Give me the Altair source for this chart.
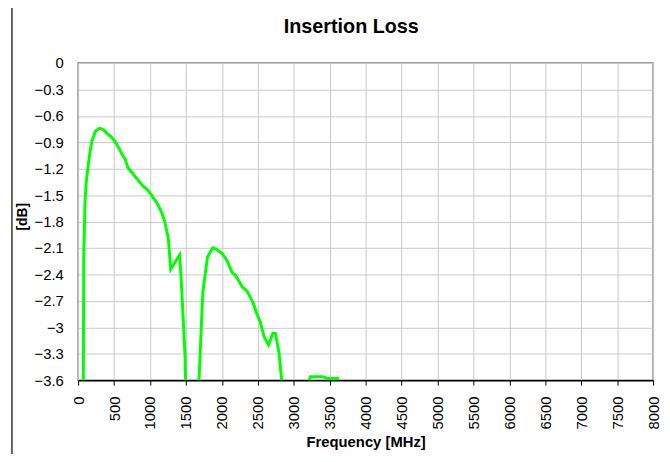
import altair as alt
import pandas as pd

# Insertion loss trace (values below -3.6 dB are off-scale and clipped)
freq_mhz = [0, 40, 65, 78, 96, 114, 142, 170, 197, 243, 300, 357, 400, 449, 495,
            564, 619, 655, 691, 746, 838, 907, 966, 1021, 1104, 1159, 1205, 1255,
            1288, 1411, 1434, 1489, 1510, 1580, 1660, 1735, 1800, 1870, 1915, 2007,
            2076, 2144, 2190, 2282, 2351, 2397, 2433, 2488, 2534, 2589, 2649, 2708,
            2745, 2795, 2832, 2860, 3000, 3180, 3230, 3400, 3470, 3610, 3650, 3800,
            4500, 6000, 8000]
loss_db = [-9.0, -7.0, -5.5, -2.2, -1.56, -1.34, -1.15, -0.98, -0.87, -0.77, -0.74,
           -0.76, -0.80, -0.83, -0.87, -0.96, -1.05, -1.09, -1.185, -1.24, -1.335,
           -1.40, -1.44, -1.50, -1.60, -1.69, -1.80, -1.99, -2.34, -2.18, -2.46,
           -3.35, -4.5, -7.0, -4.0, -2.6, -2.2, -2.10, -2.11, -2.165, -2.25, -2.38,
           -2.41, -2.54, -2.59, -2.66, -2.72, -2.85, -2.94, -3.11, -3.20, -3.07,
           -3.07, -3.29, -3.6, -5.0, -7.0, -3.75, -3.56, -3.56, -3.58, -3.58, -3.8,
           -6.0, -8.0, -9.0, -10.0]

x_ticks = [0, 500, 1000, 1500, 2000, 2500, 3000, 3500, 4000, 4500, 5000, 5500,
           6000, 6500, 7000, 7500, 8000]
y_ticks = [0, -0.3, -0.6, -0.9, -1.2, -1.5, -1.8, -2.1, -2.4, -2.7, -3.0, -3.3, -3.6]

df = pd.DataFrame({"freq": freq_mhz, "loss": loss_db})
W, H = 582, 321
FONT = "Liberation Sans"

line = alt.Chart(df).mark_line(color="#00FF00", strokeWidth=3, clip=True).encode(
    x=alt.X("freq:Q", title="Frequency [MHz]",
            scale=alt.Scale(domain=[0, 8000], nice=False),
            axis=alt.Axis(values=x_ticks, labelAngle=270, format="d",
                          labelFontSize=15, labelPadding=11, tickSize=5,
                          tickColor="#000000", domainColor="#000000", domainWidth=1.5,
                          titleFontSize=15, titleFontWeight="bold", titlePadding=6,
                          gridColor="#c8c8c8", gridWidth=1)),
    y=alt.Y("loss:Q", title="[dB]",
            scale=alt.Scale(domain=[-3.6, 0], nice=False, zero=False),
            axis=alt.Axis(values=y_ticks, format=".1~f", labelFontSize=15,
                          labelPadding=15, ticks=False, domain=False,
                          titleFontSize=14, titleFontWeight="bold", titlePadding=5,
                          titleY=155, gridColor="#c8c8c8", gridWidth=1)),
)

frame = alt.Chart(pd.DataFrame({"k": [0]})).mark_rule(color="#333333", strokeWidth=1.5).encode(
    x=alt.value(-67), y=alt.value(-61), y2=alt.value(H + 80)
)

chart = alt.layer(line, frame).properties(
    width=W, height=H,
    title=alt.TitleParams("Insertion Loss", fontSize=20, fontWeight="bold", font=FONT,
                          color="#000000", baseline="alphabetic", offset=0, dy=51,
                          dx=-14.5),
    autosize=alt.AutoSizeParams(type="none"),
    padding={"left": 71, "top": 53, "right": 9, "bottom": 72},
).configure_view(
    stroke="#808080", strokeWidth=1.5
).configure_axis(
    labelFont=FONT, titleFont=FONT, labelColor="#000000", titleColor="#000000"
)

chart.save("out.html", embed_options={"renderer": "svg", "actions": False})
